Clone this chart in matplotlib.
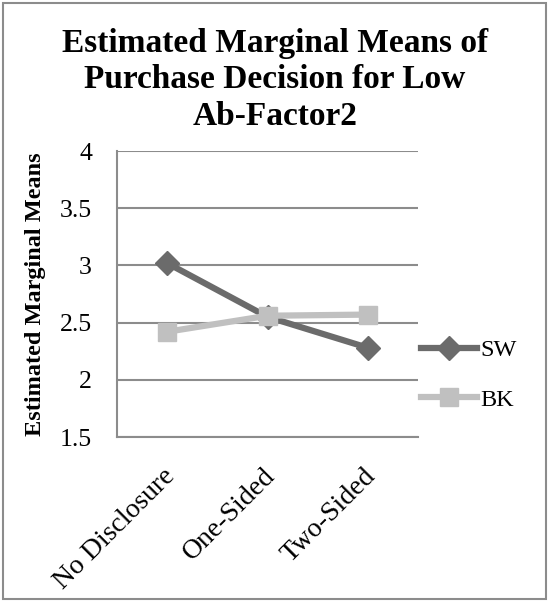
import matplotlib
matplotlib.use("Agg")
import matplotlib.pyplot as plt
from matplotlib.patches import Rectangle
from matplotlib.transforms import ScaledTranslation

categories = ["No Disclosure", "One-Sided", "Two-Sided"]
sw = [3.02, 2.55, 2.28]
bk = [2.42, 2.56, 2.57]
yticks = [1.5, 2, 2.5, 3, 3.5, 4]
ytick_labels = ["1.5", "2", "2.5", "3", "3.5", "4"]

plt.rcParams["font.family"] = ["Liberation Serif", "DejaVu Serif"]

fig = plt.figure(figsize=(5.48, 6.01), dpi=100)
ax = fig.add_axes([117/548, 1 - 437/601, 301/548, 286/601])

x = range(len(categories))
ax.plot(x, sw, color="#6b6b6b", lw=4.5, marker="D", ms=12, label="SW", zorder=3)
ax.plot(x, bk, color="#c0c0c0", lw=4.5, marker="s", ms=13, label="BK", zorder=3)

ax.set_xlim(-0.5, 2.5)
ax.set_ylim(1.5, 4)
ax.set_yticks(yticks)
ax.set_yticklabels(ytick_labels, fontsize=18.5)
ax.yaxis.grid(True, color="#8c8c8c", lw=1.5)
ax.set_axisbelow(True)
ax.tick_params(axis="y", length=0, pad=18)

ax.set_xticks(list(x))
ax.set_xticklabels(categories, rotation=45, ha="right", rotation_mode="anchor", fontsize=20)
ax.tick_params(axis="x", length=0, pad=19)
# nudge the slanted category labels a little to the left
for lab in ax.get_xticklabels():
    lab.set_transform(lab.get_transform() + ScaledTranslation(-0.05, 0, fig.dpi_scale_trans))

for side in ["top", "right"]:
    ax.spines[side].set_visible(False)
for side in ["left", "bottom"]:
    ax.spines[side].set_color("#8c8c8c")
    ax.spines[side].set_linewidth(1.5)

ax.set_ylabel("Estimated Marginal Means", fontsize=17.5, fontweight="bold", labelpad=10)
fig.text(275/548, 1 - 28/601,
         "Estimated Marginal Means of\nPurchase Decision for Low\nAb-Factor2",
         ha="center", va="top", fontsize=24, fontweight="bold", linespacing=1.22)

fig.legend(loc="center left", bbox_to_anchor=(421/548, 1 - 375/601), frameon=False,
           fontsize=17.5, handlelength=2.3, labelspacing=1.15, handletextpad=0.15,
           borderpad=0, borderaxespad=0)

# outer chart border
fig.patches.append(Rectangle((3/548, 2/601), 543/548, 596/601, transform=fig.transFigure,
                             fill=False, edgecolor="#8c8c8c", lw=1.5))

fig.savefig("out.png", dpi=100)
